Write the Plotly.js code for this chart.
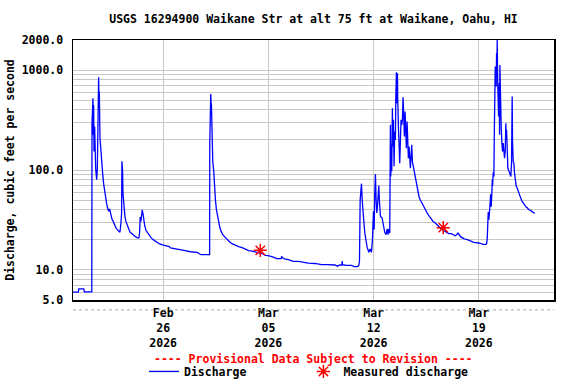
<!DOCTYPE html>
<html>
<head>
<meta charset="utf-8">
<script src="https://cdn.plot.ly/plotly-3.0.1.min.js"></script>
<style>
  html, body { margin: 0; padding: 0; background: #fff; }
  #chart { width: 576px; height: 384px; }
</style>
</head>
<body>
<div id="chart"></div>
<script>
// time of each reading, in days after 2026-02-20 00:00
const flowDays = [
  0, 0.36, 0.38, 0.72, 0.755, 1.25, 1.264, 1.33, 1.35, 1.374, 1.397, 1.44, 1.507, 1.574, 1.618,
  1.662, 1.706, 1.729, 1.75, 1.795, 1.883, 1.972, 2.038, 2.105, 2.171, 2.238, 2.304, 2.371, 2.437,
  2.503, 2.592, 2.68, 2.769, 2.857, 2.946, 3.057, 3.123, 3.19, 3.234, 3.256, 3.3, 3.322, 3.389,
  3.455, 3.521, 3.588, 3.654, 3.743, 3.809, 3.898, 3.986, 4.075, 4.186, 4.296, 4.385, 4.429, 4.473,
  4.518, 4.562, 4.606, 4.651, 4.695, 4.761, 4.85, 4.96, 5.071, 5.204, 5.336, 5.514, 5.735, 5.956,
  6.177, 6.399, 6.487, 6.93, 7.373, 7.815, 8.258, 8.52, 9.09, 9.099, 9.165, 9.188, 9.21, 9.232,
  9.277, 9.298, 9.365, 9.41, 9.476, 9.542, 9.609, 9.675, 9.764, 9.852, 9.963, 10.096, 10.251,
  10.428, 10.605, 10.804, 11.025, 11.247, 11.468, 11.69, 11.911, 12.132, 12.354, 12.575, 12.796,
  12.995, 13.327, 13.548, 13.85, 13.88, 13.95, 14.057, 14.323, 14.655, 14.987, 15.208, 15.651,
  16.094, 16.536, 16.979, 17.422, 17.598, 17.754, 17.89, 17.908, 17.93, 18.196, 18.528, 18.705,
  18.927, 19.015, 19.059, 19.104, 19.192, 19.237, 19.281, 19.347, 19.414, 19.48, 19.568, 19.679,
  19.768, 19.856, 19.922, 19.989, 20.033, 20.077, 20.121, 20.166, 20.21, 20.254, 20.298, 20.343,
  20.387, 20.453, 20.564, 20.652, 20.741, 20.83, 20.896, 20.962, 21.007, 21.073, 21.117, 21.139,
  21.184, 21.206, 21.25, 21.272, 21.317, 21.361, 21.405, 21.45, 21.472, 21.516, 21.56, 21.583,
  21.605, 21.649, 21.693, 21.738, 21.782, 21.826, 21.871, 21.915, 21.959, 22.003, 22.048, 22.092,
  22.136, 22.18, 22.225, 22.269, 22.313, 22.357, 22.402, 22.446, 22.49, 22.535, 22.579, 22.623,
  22.712, 22.778, 22.844, 22.933, 23.021, 23.11, 23.198, 23.287, 23.375, 23.486, 23.597, 23.707,
  23.84, 23.973, 24.106, 24.238, 24.371, 24.504, 24.637, 24.814, 24.991, 25.168, 25.3, 25.433,
  25.522, 25.61, 25.699, 25.81, 25.965, 26.009, 26.231, 26.452, 26.673, 27.005, 27.293, 27.47,
  27.515, 27.559, 27.603, 27.625, 27.669, 27.714, 27.758, 27.78, 27.824, 27.869, 27.891, 27.913,
  27.957, 28.001, 28.023, 28.046, 28.068, 28.09, 28.112, 28.134, 28.156, 28.179, 28.201, 28.223,
  28.245, 28.267, 28.312, 28.356, 28.378, 28.4, 28.422, 28.444, 28.467, 28.488, 28.533, 28.577,
  28.621, 28.665, 28.71, 28.754, 28.798, 28.82, 28.843, 28.887, 28.931, 28.997, 29.064, 29.13,
  29.175, 29.218, 29.24, 29.285, 29.329, 29.373, 29.418, 29.484, 29.55, 29.617, 29.706, 29.794,
  29.883, 29.971, 30.06, 30.148, 30.237, 30.325, 30.414, 30.502, 30.591, 30.679, 30.724
];
// discharge, cubic feet per second
const flowCfs = [
  6.0, 6.0, 6.46, 6.46, 6.03, 6.03, 294, 523, 225, 448, 153, 272, 104, 80, 101,
  767, 847, 484, 609, 208, 127, 93, 73, 60, 52, 46, 41.6, 38.6, 40.7,
  35.7, 32.3, 30.6, 27.8, 26.3, 25.3, 24.3, 23.8, 29.5, 37.1, 122, 97, 59, 40,
  34.4, 30.6, 28.4, 26.3, 24.9, 23.8, 23.1, 22.5, 22.0, 21.4, 20.9, 20.9, 23.4, 33.9,
  30.6, 35.7, 40, 37.1, 31.8, 28.4, 24.9, 23.4, 22.0, 20.9, 20.1, 19.2, 18.3, 17.8,
  17.5, 17.1, 16.6, 16.0, 15.7, 15.2, 15.0, 14.2, 14.2, 186, 577, 466, 448, 234,
  225, 122, 97, 69, 50, 40, 35, 30.6, 26.9, 24.3, 22.5, 21.4, 20.1,
  19.0, 18.2, 17.6, 17.1, 16.7, 16.0, 15.6, 15.4, 15.2, 15.0, 14.6, 14.0,
  13.9, 13.4, 13.0, 13.0, 13.7, 13.2, 12.9, 12.7, 12.2, 12.2, 12.0, 11.7,
  11.6, 11.3, 11.3, 11.2, 10.9, 11.2, 11.2, 12.3, 11.3, 11.1, 11.1, 10.8,
  10.8, 11.1, 12.2, 50, 73, 51, 35.7, 30.6, 23.4, 19.3, 16.9, 15.0,
  16.2, 15.0, 20.1, 38.6, 25.3, 59, 91, 50, 37.1, 43, 69, 70,
  48.5, 34.4, 33.1, 27.3, 23.8, 22.5, 25.7, 22.5, 25.7, 23.4, 283, 86,
  179, 97, 415, 172, 318, 109, 243, 200, 503, 951, 466, 929,
  503, 272, 148, 117, 200, 318, 283, 318, 535, 234, 216, 385,
  172, 165, 306, 148, 131, 172, 113, 104, 137, 179, 122, 113,
  93, 83, 71, 61, 54, 50, 47, 44, 41.6, 38.6, 36.3, 34.4,
  31.8, 30.4, 29.5, 28.4, 26.9, 25.7, 24.9, 23.8, 23.1, 23.1, 22.7, 22.0,
  22.5, 23.4, 22.5, 21.4, 20.7, 20.5, 20.1, 19.3, 18.9, 18.6, 18.0, 18.0,
  18.3, 20.7, 27.3, 37.9, 31.8, 37.1, 48.5, 57, 43, 61, 80, 69,
  95, 86, 200, 965, 684, 1083, 738, 1312, 684, 1472, 1083, 2000,
  965, 633, 343, 738, 225, 1125, 503, 318, 466, 272, 186, 153,
  186, 142, 131, 153, 294, 200, 252, 165, 104, 98, 93, 86,
  117, 543, 200, 122, 117, 93, 77, 69, 66, 61, 57, 52,
  48.5, 46, 44, 42.6, 41.6, 40, 39.6, 38.6, 37.9, 37.1, 37.1
];
// field measurements
const measDays = [12.46, 24.63];
const measCfs = [15.7, 26.5];

const xTickVals = ['2026-02-26', '2026-03-05', '2026-03-12', '2026-03-19'];
const xTickText = ['Feb<br>26<br>2026', 'Mar<br>05<br>2026', 'Mar<br>12<br>2026', 'Mar<br>19<br>2026'];
const yTickVals = [5, 6, 7, 8, 9, 10, 20, 30, 40, 50, 60, 70, 80, 90, 100, 200, 300, 400, 500, 600, 700, 800, 900, 1000, 2000];
const yTickText = ['5.0', '', '', '', '', '10.0', '', '', '', '', '', '', '', '', '100.0', '', '', '', '', '', '', '', '', '1000.0', '2000.0'];

const t0 = Date.UTC(2026, 1, 20);
function toDate(d) {
    return new Date(t0 + d * 86400000).toISOString().slice(0, 19).replace('T', ' ');
}

const font = { family: 'DejaVu Sans Mono', size: 11.5, weight: 'bold', color: '#000' };

const discharge = {
    x: flowDays.map(toDate),
    y: flowCfs,
    type: 'scatter',
    mode: 'lines',
    name: 'Discharge',
    legend: 'legend',
    line: { color: '#0000ff', width: 1.3 }
};

const measured = {
    x: measDays.map(toDate),
    y: measCfs,
    type: 'scatter',
    mode: 'markers',
    name: 'Measured discharge',
    legend: 'legend2',
    marker: { symbol: 'asterisk', size: 11, color: '#ff0000', line: { color: '#ff0000', width: 1.5 } }
};

const layout = {
    width: 576,
    height: 384,
    margin: { l: 73, r: 22, t: 40, b: 84, autoexpand: false },
    paper_bgcolor: '#fff',
    plot_bgcolor: '#fff',
    font: font,
    title: {
        text: 'USGS 16294900 Waikane Str at alt 75 ft at Waikane, Oahu, HI',
        font: font,
        x: 0.5, xref: 'paper',
        y: 1 - 19 / 384, yref: 'container', yanchor: 'middle'
    },
    xaxis: {
        type: 'date',
        range: ['2026-02-20 00:00', '2026-03-24 00:00'],
        tickvals: xTickVals,
        ticktext: xTickText,
        ticks: '',
        ticklabelstandoff: 2,
        automargin: false,
        showgrid: true,
        gridcolor: '#c8c8c8',
        gridwidth: 1,
        showline: true,
        linecolor: '#000',
        linewidth: 1.5,
        mirror: true,
        zeroline: false,
        tickfont: font
    },
    yaxis: {
        type: 'log',
        range: [Math.log10(5), Math.log10(2000)],
        tickvals: yTickVals,
        ticktext: yTickText,
        ticks: '',
        ticklabelstandoff: 6,
        automargin: false,
        showgrid: true,
        gridcolor: '#c8c8c8',
        gridwidth: 1,
        showline: true,
        linecolor: '#000',
        linewidth: 1.5,
        mirror: true,
        zeroline: false,
        tickfont: font,
        title: { text: 'Discharge, cubic feet per second', font: font, standoff: 4 }
    },
    showlegend: true,
    legend: {
        orientation: 'h',
        x: 0.1476, xanchor: 'left',
        y: -0.219, yanchor: 'top',
        font: font,
        bgcolor: 'rgba(0,0,0,0)'
    },
    legend2: {
        orientation: 'h',
        x: 0.479, xanchor: 'left',
        y: -0.219, yanchor: 'top',
        font: font,
        bgcolor: 'rgba(0,0,0,0)'
    },
    shapes: [
        {
            type: 'line', xref: 'paper', yref: 'paper',
            x0: 0, x1: 1, y0: -0.038, y1: -0.038,
            line: { color: '#aaaaaa', width: 1, dash: 'dot' }
        }
    ],
    annotations: [
        {
            text: '---- Provisional Data Subject to Revision ----',
            xref: 'paper', yref: 'paper',
            x: 0.5, y: -0.227, yanchor: 'middle',
            showarrow: false,
            font: { family: 'DejaVu Sans Mono', size: 11.5, weight: 'bold', color: '#ff0000' }
        }
    ]
};

Plotly.newPlot('chart', [discharge, measured], layout, { displayModeBar: false, staticPlot: true });
</script>
</body>
</html>
